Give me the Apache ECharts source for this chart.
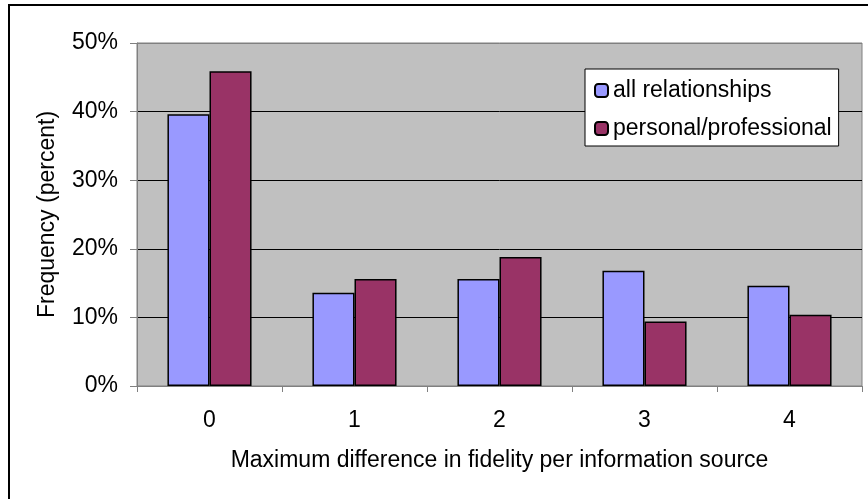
<!DOCTYPE html>
<html>
<head>
<meta charset="utf-8">
<style>
  html, body { margin: 0; padding: 0; background: #ffffff; }
  #chart { width: 868px; height: 499px; }
</style>
<script src="https://cdn.jsdelivr.net/npm/echarts@6/dist/echarts.min.js"></script>
</head>
<body>
<div id="chart"></div>
<script>
// Maximum difference in fidelity per information source
const categories = ['0', '1', '2', '3', '4'];
const allRelationships = [39.6, 13.6, 15.6, 16.8, 14.6];
const personalProfessional = [45.9, 15.6, 18.8, 9.4, 10.4];
const yTicks = [0, 10, 20, 30, 40, 50];

const FONT = '"Liberation Sans", Arial, sans-serif';
const FS = 23;

const chart = echarts.init(document.getElementById('chart'), null, { renderer: 'canvas' });

chart.setOption({
  animation: false,
  backgroundColor: '#ffffff',
  textStyle: { fontFamily: FONT, color: '#000' },
  grid: {
    left: 137, top: 43, right: 6, bottom: 113,
    show: true, backgroundColor: '#c0c0c0',
    borderColor: '#808080', borderWidth: 1
  },
  legend: {
    orient: 'vertical',
    left: 585, top: 69,
    backgroundColor: '#ffffff',
    borderColor: '#000', borderWidth: 1,
    padding: [10, 7, 6, 9],
    itemWidth: 13, itemHeight: 13,
    itemGap: 15,
    itemTextGap: 8,
    textStyle: { fontFamily: FONT, fontSize: FS, color: '#000' },
    data: ['all relationships', 'personal/professional']
  },
  xAxis: {
    type: 'category',
    data: categories,
    name: 'Maximum difference in fidelity per information source',
    nameLocation: 'middle',
    nameGap: 63,
    nameTextStyle: { fontFamily: FONT, fontSize: FS, color: '#000' },
    axisLine: { lineStyle: { color: '#808080', width: 1 } },
    axisTick: { show: true, length: 6, lineStyle: { color: '#808080' } },
    axisLabel: { fontFamily: FONT, fontSize: FS, color: '#000', margin: 23 },
    splitLine: { show: false }
  },
  yAxis: {
    type: 'value',
    min: yTicks[0], max: yTicks[yTicks.length - 1], interval: 10,
    name: 'Frequency (percent)',
    nameLocation: 'middle',
    nameGap: 78,
    nameTextStyle: { fontFamily: FONT, fontSize: FS, color: '#000' },
    axisLine: { show: true, lineStyle: { color: '#808080', width: 1 } },
    axisTick: { show: true, length: 7, lineStyle: { color: '#808080' } },
    axisLabel: {
      fontFamily: FONT, fontSize: FS, color: '#000', margin: 19,
      formatter: v => v + '%'
    },
    splitLine: {
      show: true,
      lineStyle: { color: ['#808080', '#000', '#000', '#000', '#000', '#808080'], width: 1 }
    }
  },
  series: [
    {
      name: 'all relationships',
      type: 'bar',
      data: allRelationships,
      barGap: '0%',
      barCategoryGap: '42%',
      itemStyle: { color: '#9999ff', borderColor: '#000', borderWidth: 1.5 }
    },
    {
      name: 'personal/professional',
      type: 'bar',
      data: personalProfessional,
      barGap: '0%',
      barCategoryGap: '42%',
      itemStyle: { color: '#993366', borderColor: '#000', borderWidth: 1.5 }
    }
  ],
  graphic: [
    {
      type: 'polyline',
      shape: { points: [[9, 499], [9, 5], [868, 5]] },
      style: { stroke: '#000', lineWidth: 2, fill: null },
      silent: true
    }
  ]
});
</script>
</body>
</html>
